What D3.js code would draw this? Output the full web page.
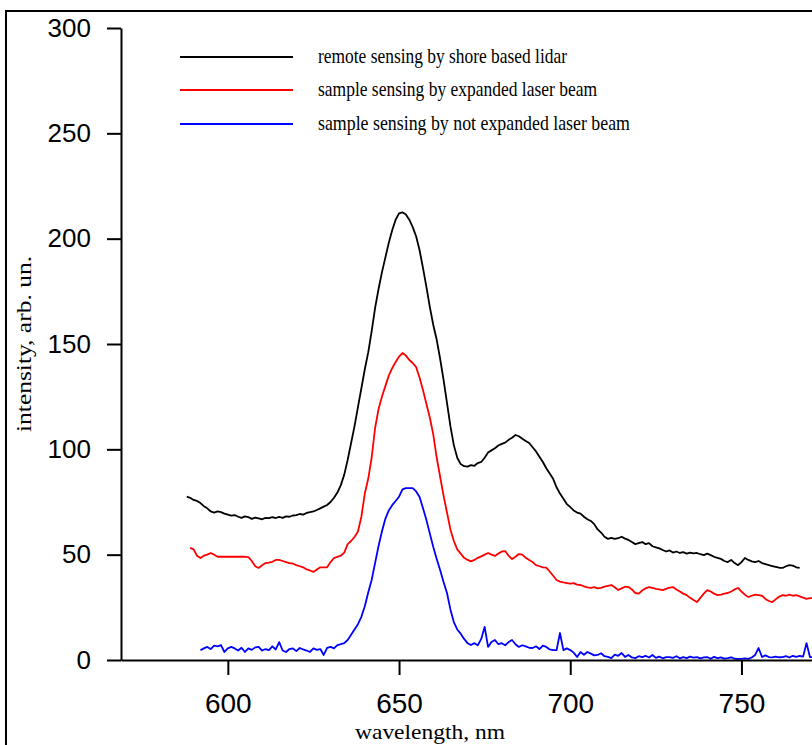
<!DOCTYPE html>
<html>
<head>
<meta charset="utf-8">
<script src="https://cdn.jsdelivr.net/npm/d3@7"></script>
<style>
  body { margin: 0; background: #fff; }
  svg { display: block; }
</style>
</head>
<body>
<div class="container"></div>
<script>
// wavelength grid: first point of each series, 1 nm step
const blackStart = 588;
const redStart = 589;
const blueStart = 592;

// remote sensing by shore based lidar (588..767 nm)
const blackValues = [
  77.5, 77, 76, 75.5, 74.5, 73, 72, 70.5, 70, 70.5,
  70.2, 69.5, 69, 68.5, 68.8, 68, 67.5, 68.2, 67.8, 67,
  67.6, 67.2, 66.8, 67.5, 67.3, 67.8, 67.4, 67.9, 67.5, 68.2,
  68, 68.6, 68.8, 69.3, 69, 69.8, 70.2, 70.5, 71.2, 72,
  72.8, 73.6, 75, 77, 79.5, 83, 88, 95, 103, 111,
  120, 129, 138, 146, 156, 167, 176, 184, 191, 198,
  204, 209, 212, 212.5, 211.5, 209, 205.5, 201, 194.5, 186,
  177, 167.5, 159, 152, 143, 133, 122, 111, 102, 96,
  93, 92, 91.8, 92.5, 92.2, 93.5, 94, 96, 98.5, 99.5,
  100.5, 101.8, 102.6, 103.2, 104.5, 105.5, 106.8, 106.2, 105, 104,
  103, 101, 99, 96.5, 94, 91, 88.5, 86, 82, 79,
  76.5, 74, 72.6, 71, 70, 69.5, 68, 66.8, 66, 64.5,
  62, 60.5, 58.5, 57.5, 58, 57.5, 57.8, 58.5, 57.6, 57,
  56, 55, 55.5, 56, 55, 55.5, 54, 53.5, 53, 52.2,
  51.5, 52, 51, 51.5, 50.8, 51.2, 50.5, 51, 50.6, 50.8,
  50.2, 49.8, 50.5, 49.8, 49, 48.5, 48, 47, 46.5, 47.5,
  46, 45, 46.5, 48.4, 47.5, 46.8, 46.5, 47, 46, 45.5,
  45, 44.6, 44.2, 43.8, 43.7, 44.5, 45, 44.8, 44, 43.7
];

// sample sensing by expanded laser beam (589..771 nm)
const redValues = [
  53.2, 52.5, 49.5, 48.4, 49.5, 50, 50.8, 50, 49, 49,
  49, 49, 49, 49, 49, 49, 49, 48.8, 47, 44.5,
  43.7, 45, 46, 46.2, 46.6, 47.5, 47.5, 47, 46.5, 46,
  45.8, 45, 44.5, 44, 43, 42.5, 41.8, 43, 44, 44,
  44, 46.5, 48.4, 49, 49.5, 51, 55, 56.5, 58.4, 61,
  68, 79, 86, 96, 110, 119, 125, 130, 135, 138.5,
  141.5, 144, 145.7, 144.5, 142.4, 141, 139, 134, 128, 121.5,
  115, 107, 96, 87, 78, 70, 62, 56.5, 52.5, 50.5,
  48.5, 47.5, 46.8, 47.5, 48.5, 49.2, 50, 50.8, 50, 49.4,
  50.5, 51.5, 51.7, 49.5, 47.9, 49, 50.3, 50, 48.5, 47.5,
  46.5, 45, 44.5, 44, 43.8, 42, 40, 38, 37.2, 36.8,
  36.5, 36.2, 36.5, 35.8, 35.6, 35, 34.5, 34.2, 34.6, 34,
  34.2, 34.8, 35.2, 35.6, 34.5, 33.2, 34, 34.8, 34.6, 33.5,
  31.8, 31.5, 33, 34, 34.6, 34.2, 33.8, 33.5, 33.2, 33.8,
  34.4, 34.6, 33.5, 32.5, 31.5, 30.8, 29.5, 28.5, 27.5, 29.5,
  31.5, 33.2, 32.5, 31.5, 30.8, 31, 31.5, 31.8, 32.5, 33.5,
  34.2, 32.5, 31, 29.9, 30.5, 31, 30.8, 30.5, 29, 28,
  27.5, 28.8, 30, 30.8, 30.5, 31, 30.5, 30.8, 30.2, 29.6,
  29, 29.4, 29.4
];

// sample sensing by not expanded laser beam (592..771 nm)
const blueValues = [
  4.7, 5.5, 6.2, 5.2, 6.8, 6.5, 7.1, 3.8, 5.5, 6.2,
  5.5, 4.5, 5.8, 3.8, 5.5, 4.8, 6, 6.2, 4.5, 5.2,
  4.7, 6.5, 5, 8.5, 4.5, 3.8, 5.2, 5.5, 4.2, 5.7,
  5, 4.5, 3.8, 5.5, 4.8, 5.2, 2.4, 5.8, 6.2, 5.5,
  7.1, 7.5, 8, 9.5, 12, 14.5, 17, 20.5, 25.5, 32,
  38, 46, 54, 61, 67, 71, 73.5, 75.5, 77.5, 81,
  81.6, 81.6, 81.6, 80, 77.4, 72, 66.4, 60, 53.6, 48,
  42.7, 37, 31.8, 24, 18, 14.5, 12.5, 10, 8, 7.1,
  8, 7, 10, 15.7, 6.2, 8.5, 9.5, 7.5, 8, 7,
  8.5, 9.5, 7.5, 6.2, 7, 6.5, 5.8, 5.7, 6.5, 5.2,
  6.8, 6.2, 5, 4.7, 4.7, 12.8, 4.7, 5.5, 4.7, 3.5,
  1.4, 3.8, 2.5, 3.8, 3, 2.2, 2.4, 3.2, 1.8, 1.5,
  0.9, 2.5, 2, 3.3, 1.5, 2.4, 1.2, 0.9, 1.8, 1.4,
  2, 1.2, 2.4, 1, 1.6, 0.8, 1.4, 1.4, 1, 1.8,
  0.8, 1.4, 0.9, 1.6, 1.1, 1.4, 0.8, 1.2, 1.4, 0.6,
  1.5, 0.9, 1.2, 0.7, 0.9, 1.3, 0.6, 0.5, 0.5, 0.8,
  0.5, 1.2, 2.4, 5.7, 1.4, 2.2, 1.4, 1.2, 1.6, 1.3,
  1.4, 1.8, 1.2, 2, 1.5, 1.9, 1.6, 8, 1.4, 1.4
];

const legendLabels = [
  'remote sensing by shore based lidar',
  'sample sensing by expanded laser beam',
  'sample sensing by not expanded laser beam'
];
const seriesColors = ['#000000', '#ff0000', '#0000ff'];
const xTicks = [600, 650, 700, 750];
const yTicks = [0, 50, 100, 150, 200, 250, 300];
const xDomain = [568.8, 770.6];
const yDomain = [0, 300];

const width = 812, height = 745;
const plot = {left: 121, right: 812, top: 28, bottom: 660};

const svg = d3.select('.container').append('svg')
    .attr('width', width)
    .attr('height', height);

// outer frame (runs off the right and bottom edges)
svg.append('rect')
    .attr('x', 6).attr('y', 11)
    .attr('width', 900).attr('height', 900)
    .attr('fill', 'none')
    .attr('stroke', '#000')
    .attr('stroke-width', 2);

const x = d3.scaleLinear().domain(xDomain).range([plot.left, plot.right]);
const y = d3.scaleLinear().domain(yDomain).range([plot.bottom, plot.top]);

const toPoints = (start, values) => values.map((v, i) => [start + i, v]);
const series = [
  toPoints(blackStart, blackValues),
  toPoints(redStart, redValues),
  toPoints(blueStart, blueValues)
];

const line = d3.line().x(d => x(d[0])).y(d => y(d[1]));

svg.append('g').selectAll('path')
    .data(series)
    .enter()
    .append('path')
    .attr('d', line)
    .attr('fill', 'none')
    .attr('stroke', (d, i) => seriesColors[i])
    .attr('stroke-width', 1.8)
    .attr('stroke-linejoin', 'round');

// y axis
const yAxis = svg.append('g')
    .attr('transform', `translate(${plot.left},0)`)
    .call(d3.axisLeft(y).tickValues(yTicks).tickSize(14).tickSizeOuter(0).tickPadding(16));
yAxis.select('.domain').attr('stroke-width', 2);
yAxis.selectAll('.tick line').attr('stroke-width', 2);
yAxis.selectAll('text')
    .attr('font-family', 'Liberation Sans, Arial, sans-serif')
    .attr('font-size', '26px')
    .attr('fill', '#000');

// x axis
const xAxis = svg.append('g')
    .attr('transform', `translate(0,${plot.bottom})`)
    .call(d3.axisBottom(x).tickValues(xTicks).tickSize(15).tickSizeOuter(0).tickPadding(18));
xAxis.select('.domain').attr('stroke-width', 2);
xAxis.selectAll('.tick line').attr('stroke-width', 2);
xAxis.selectAll('text')
    .attr('font-family', 'Liberation Sans, Arial, sans-serif')
    .attr('font-size', '28px')
    .attr('fill', '#000');

// axis titles
svg.append('text')
    .attr('x', 430).attr('y', 739)
    .attr('text-anchor', 'middle')
    .attr('font-family', 'Liberation Serif, Times New Roman, serif')
    .attr('font-size', '22px')
    .attr('textLength', 150)
    .attr('lengthAdjust', 'spacingAndGlyphs')
    .text('wavelength, nm');

svg.append('text')
    .attr('transform', 'translate(31,344) rotate(-90)')
    .attr('text-anchor', 'middle')
    .attr('font-family', 'Liberation Serif, Times New Roman, serif')
    .attr('font-size', '21px')
    .attr('textLength', 176)
    .attr('lengthAdjust', 'spacingAndGlyphs')
    .text('intensity, arb. un.');

// legend
const legendY = [57, 90, 124];
const legendWidths = [249, 279, 312];
const legend = svg.append('g').selectAll('g')
    .data(legendLabels)
    .enter()
    .append('g')
    .attr('transform', (d, i) => `translate(0,${legendY[i]})`);

legend.append('line')
    .attr('x1', 180).attr('x2', 293)
    .attr('stroke', (d, i) => seriesColors[i])
    .attr('stroke-width', 2);

legend.append('text')
    .attr('x', 318).attr('y', 6)
    .attr('font-family', 'Liberation Serif, Times New Roman, serif')
    .attr('font-size', '21px')
    .attr('textLength', (d, i) => legendWidths[i])
    .attr('lengthAdjust', 'spacingAndGlyphs')
    .text(d => d);
</script>
</body>
</html>
